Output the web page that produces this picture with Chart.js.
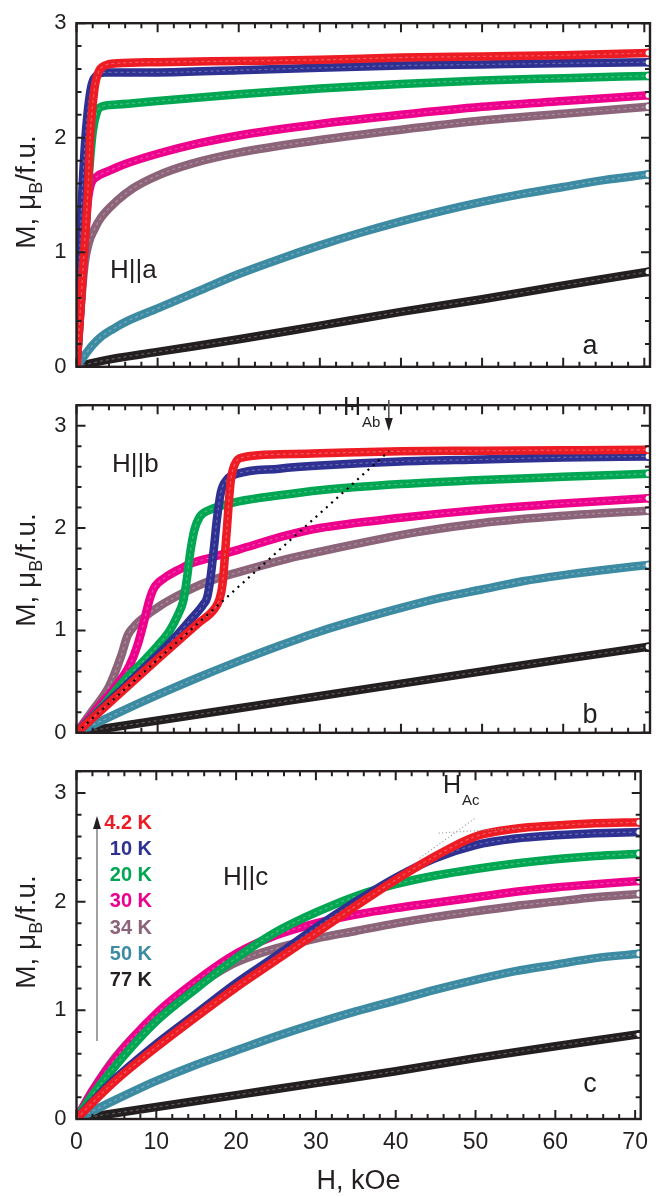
<!DOCTYPE html>
<html>
<head>
<meta charset="utf-8">
<script src="https://cdn.jsdelivr.net/npm/chart.js@4.4.1/dist/chart.umd.min.js"></script>
<style>
  html, body { margin: 0; padding: 0; background: #fff; }
  #wrap { position: relative; width: 658px; height: 1197px; overflow: hidden; }
  canvas { position: absolute; left: 0; }
</style>
</head>
<body>
<div id="wrap">
  <canvas id="panelA" width="658" height="390" style="top:0px;width:658px;height:390px"></canvas>
  <canvas id="panelB" width="658" height="374" style="top:382px;width:658px;height:374px"></canvas>
  <canvas id="panelC" width="658" height="449" style="top:748px;width:658px;height:449px"></canvas>
</div>
<script>
const temps  = ['4.2 K', '10 K', '20 K', '30 K', '34 K', '50 K', '77 K'];
const colors = ['#ed1c24', '#2e3192', '#00a651', '#ec008c', '#8c6479', '#3d8ba3', '#231f20'];
const xTicks = [0, 10, 20, 30, 40, 50, 60, 70];

// panel a : H || a   ([H kOe, M muB/f.u.])
const a42 = [[0,0],[0.5,0.52],[1,1.07],[1.4,1.52],[1.7,2.02],[2.2,2.42],[2.7,2.57],[3.5,2.63],[5,2.65],[10,2.66],[20,2.67],[30,2.68],[40,2.7],[50,2.71],[60,2.72],[70.5,2.74]];
const a10 = [[0,0],[0.2,0.6],[0.5,1.2],[0.8,1.65],[1.1,2.0],[1.5,2.3],[1.9,2.47],[2.6,2.55],[3.5,2.57],[5,2.57],[10,2.57],[20,2.59],[30,2.61],[40,2.63],[50,2.64],[60,2.65],[70.5,2.66]];
const a20 = [[0,0],[0.5,0.55],[1,1.1],[1.5,1.65],[2,2.05],[2.5,2.22],[3,2.27],[5,2.29],[10,2.32],[20,2.38],[30,2.43],[40,2.47],[50,2.5],[60,2.52],[70.5,2.54]];
const a30 = [[0,0],[0.5,0.52],[1,1.05],[1.4,1.45],[1.8,1.6],[2.5,1.66],[4,1.71],[6,1.77],[10,1.86],[15,1.95],[20,2.02],[30,2.12],[40,2.2],[50,2.27],[60,2.32],[70.5,2.37]];
const a34 = [[0,0],[0.5,0.5],[1,0.9],[1.5,1.08],[2.2,1.2],[3,1.3],[5,1.45],[7,1.56],[10,1.67],[14,1.77],[20,1.87],[30,1.98],[40,2.07],[50,2.15],[60,2.21],[70.5,2.27]];
const a50 = [[0,0],[1,0.1],[2,0.19],[3,0.26],[4.5,0.33],[6,0.39],[10,0.51],[15,0.66],[20,0.81],[25,0.94],[30,1.06],[35,1.17],[40,1.27],[45,1.36],[50,1.44],[55,1.51],[60,1.57],[65,1.63],[70.5,1.68]];
const a77 = [[0,0],[3,0.05],[10,0.13],[20,0.24],[30,0.36],[40,0.48],[50,0.59],[60,0.71],[70.5,0.83]];

// panel b : H || b
const b42 = [[0,0],[5,0.36],[10,0.72],[15,1.07],[17,1.21],[17.6,1.3],[18,1.45],[18.5,1.95],[19,2.45],[19.5,2.62],[20.5,2.69],[25,2.72],[30,2.73],[40,2.75],[50,2.755],[60,2.76],[70.5,2.765]];
const b10 = [[0,0],[5,0.38],[10,0.76],[12,0.92],[14,1.1],[15.6,1.25],[16.1,1.32],[16.5,1.5],[17,1.85],[17.3,2.08],[17.8,2.35],[18.5,2.47],[19.8,2.53],[25,2.58],[30,2.61],[40,2.65],[50,2.67],[60,2.69],[70.5,2.7]];
const b20 = [[0,0],[3,0.24],[6,0.52],[8,0.68],[10,0.85],[11.5,1.0],[12.5,1.15],[13.2,1.3],[13.6,1.5],[14,1.75],[14.5,1.97],[15.2,2.11],[16.5,2.18],[18,2.22],[20,2.26],[25,2.32],[30,2.37],[40,2.43],[50,2.47],[60,2.5],[70.5,2.53]];
const b30 = [[0,0],[3,0.28],[5,0.47],[6.5,0.65],[7.5,0.85],[8.3,1.08],[9,1.3],[9.6,1.42],[11,1.52],[13,1.61],[14,1.65],[16.5,1.71],[20,1.79],[26,1.93],[30,2.0],[40,2.1],[50,2.18],[60,2.24],[70.5,2.29]];
const b34 = [[0,0],[2,0.22],[4,0.45],[5.5,0.75],[6.3,0.95],[7,1.03],[8.2,1.12],[10.3,1.24],[13,1.36],[16,1.47],[20,1.57],[26,1.7],[30,1.77],[42,1.96],[50,2.05],[60,2.12],[70.5,2.17]];
const b50 = [[0,0],[5,0.19],[10,0.37],[15,0.54],[20,0.7],[25,0.85],[30,0.99],[35,1.11],[40,1.22],[45,1.32],[50,1.4],[55,1.48],[60,1.54],[65,1.59],[70.5,1.64]];
const b77 = [[0,0],[10,0.12],[20,0.24],[30,0.36],[40,0.48],[50,0.6],[60,0.72],[70.5,0.84]];
const bGuide = [[0,0],[38.5,2.75]];

// panel c : H || c
const c42 = [[0,0],[2,0.15],[5,0.36],[10,0.66],[15,0.94],[20,1.21],[25,1.46],[30,1.71],[35,1.96],[40,2.2],[45,2.42],[50,2.6],[55,2.67],[60,2.7],[65,2.72],[70.5,2.73]];
const c10 = [[0,0],[2,0.16],[5,0.38],[10,0.69],[15,0.97],[20,1.25],[25,1.5],[30,1.76],[35,2.0],[40,2.22],[45,2.4],[50,2.52],[55,2.58],[60,2.61],[65,2.63],[70.5,2.64]];
const c20 = [[0,0],[2,0.22],[5,0.5],[10,0.9],[15,1.2],[20,1.48],[25,1.72],[30,1.9],[35,2.05],[40,2.16],[45,2.24],[50,2.3],[55,2.35],[60,2.39],[65,2.42],[70.5,2.44]];
const c30 = [[0,0],[2,0.26],[5,0.57],[10,0.97],[15,1.27],[20,1.52],[25,1.69],[30,1.8],[35,1.88],[40,1.94],[45,1.99],[50,2.04],[55,2.09],[60,2.13],[65,2.16],[70.5,2.19]];
const c34 = [[0,0],[2,0.26],[5,0.58],[10,0.95],[15,1.22],[20,1.44],[25,1.57],[30,1.66],[35,1.73],[40,1.8],[45,1.86],[50,1.91],[55,1.96],[60,2.0],[65,2.04],[70.5,2.07]];
const c50 = [[0,0],[5,0.18],[10,0.35],[15,0.5],[20,0.63],[25,0.76],[30,0.88],[35,0.99],[40,1.09],[45,1.19],[50,1.28],[55,1.36],[60,1.42],[65,1.48],[70.5,1.52]];
const c77 = [[0,0],[10,0.11],[20,0.22],[30,0.33],[40,0.44],[50,0.56],[60,0.67],[70.5,0.78]];
const cGuide1 = [[43,2.4],[50,2.77]];
const cGuide2 = [[45.4,2.63],[55.7,2.68]];

const FONT = '"Liberation Sans", Arial, Helvetica, sans-serif';
const INK = '#231f20';
const X_MAX = 70.7;

function toXY(arr) {
  return arr.map(p => ({x: p[0], y: p[1]}));
}

function curveSets(series) {
  return series.map((s, i) => ({
    label: temps[i],
    data: toXY(s),
    borderColor: colors[i],
    borderWidth: 8.5,
    borderCapStyle: 'round',
    borderJoinStyle: 'round',
    cubicInterpolationMode: 'monotone',
    pointRadius: s.map((p, k) => k === s.length - 1 ? 3.5 : 0),
    pointBackgroundColor: '#fff',
    pointBorderColor: colors[i],
    pointBorderWidth: 1.5
  }));
}

function guide(arr, color, width, dash) {
  return {
    label: 'guide',
    data: toXY(arr),
    borderColor: color,
    borderWidth: width,
    borderDash: dash,
    pointRadius: 0,
    tension: 0
  };
}

// page y -> canvas y
function py(chart, pageY) { return pageY - chart.canvas.offsetTop; }

function yTitle(ctx, cy) {
  ctx.save();
  ctx.translate(35, cy);
  ctx.rotate(-Math.PI / 2);
  const big = '28px ' + FONT, small = '18px ' + FONT;
  ctx.font = big;
  const w1 = ctx.measureText('M, \u03bc').width;
  const w3 = ctx.measureText('/f.u.').width;
  ctx.font = small;
  const w2 = ctx.measureText('B').width;
  const sx = -(w1 + w2 + w3) / 2;
  ctx.fillStyle = INK;
  ctx.textAlign = 'left';
  ctx.textBaseline = 'alphabetic';
  ctx.font = big; ctx.fillText('M, \u03bc', sx, 0);
  ctx.font = small; ctx.fillText('B', sx + w1, 7);
  ctx.font = big; ctx.fillText('/f.u.', sx + w1 + w2, 0);
  ctx.restore();
}

function text(ctx, s, x, y, size, align, color, weight) {
  ctx.font = (weight || '') + ' ' + size + 'px ' + FONT;
  ctx.fillStyle = color || INK;
  ctx.textAlign = align || 'left';
  ctx.fillText(s, x, y);
}

function subLabel(ctx, main, sub, x, y) {
  ctx.textBaseline = 'alphabetic';
  text(ctx, main, x, y, 25);
  const w = ctx.measureText(main).width;
  text(ctx, sub, x + w + 1, y + 12, 15);
}

function arrowDown(ctx, x, y0, y1, lineColor) {
  ctx.strokeStyle = lineColor; ctx.lineWidth = 1.6;
  ctx.beginPath(); ctx.moveTo(x, y0); ctx.lineTo(x, y1 - 10); ctx.stroke();
  ctx.fillStyle = INK;
  ctx.beginPath(); ctx.moveTo(x - 4, y1 - 13); ctx.lineTo(x + 4, y1 - 13); ctx.lineTo(x, y1); ctx.closePath(); ctx.fill();
}

function arrowUp(ctx, x, y0, y1, lineColor) {
  ctx.strokeStyle = lineColor; ctx.lineWidth = 1.6;
  ctx.beginPath(); ctx.moveTo(x, y0); ctx.lineTo(x, y1 + 10); ctx.stroke();
  ctx.fillStyle = INK;
  ctx.beginPath(); ctx.moveTo(x - 4, y1 + 13); ctx.lineTo(x + 4, y1 + 13); ctx.lineTo(x, y1); ctx.closePath(); ctx.fill();
}

const decorations = {
  panelA(chart, ctx) {
    yTitle(ctx, py(chart, 192));
    ctx.textBaseline = 'alphabetic';
    text(ctx, 'H||a', 110, py(chart, 278), 26);
    text(ctx, 'a', 590, py(chart, 354), 27, 'center');
  },
  panelB(chart, ctx) {
    const x = chart.scales.x;
    yTitle(ctx, py(chart, 570));
    ctx.textBaseline = 'alphabetic';
    text(ctx, 'H||b', 112, py(chart, 472), 26);
    text(ctx, 'b', 590, py(chart, 723), 27, 'center');
    subLabel(ctx, 'H', 'Ab', 343, py(chart, 415));
    arrowDown(ctx, x.getPixelForValue(38.5), py(chart, 400), py(chart, 431), '#555');
  },
  panelC(chart, ctx) {
    yTitle(ctx, py(chart, 932));
    ctx.textBaseline = 'alphabetic';
    text(ctx, 'H||c', 223, py(chart, 885), 26);
    text(ctx, 'c', 590, py(chart, 1092), 27, 'center');
    subLabel(ctx, 'H', 'Ac', 443, py(chart, 793));
    arrowUp(ctx, 97, py(chart, 1041), py(chart, 816), '#8a8a8a');
    ctx.textBaseline = 'middle';
    temps.forEach((t, i) => {
      text(ctx, t, 152, py(chart, 823 + i * 26.3), 20, 'right', colors[i], 'bold');
    });
    ctx.textBaseline = 'alphabetic';
    text(ctx, 'H, kOe', (chart.chartArea.left + chart.chartArea.right) / 2, py(chart, 1189), 27, 'center');
  }
};

// light dashes inside each band, like the open-circle markers of the data
const texturePlugin = {
  id: 'texture',
  afterDatasetDraw(chart, args) {
    const meta = args.meta, ds = chart.data.datasets[args.index];
    if (ds.label === 'guide' || !meta.dataset) return;
    const ctx = chart.ctx, a = chart.chartArea;
    ctx.save();
    ctx.beginPath();
    ctx.rect(a.left, a.top, a.right - a.left, a.bottom - a.top);
    ctx.clip();
    ctx.strokeStyle = 'rgba(255,255,255,0.28)';
    ctx.lineWidth = 1.2;
    ctx.setLineDash([3, 3]);
    ctx.beginPath();
    meta.dataset.path(ctx);
    ctx.stroke();
    ctx.restore();
  }
};

const framePlugin = {
  id: 'frame',
  afterDatasetsDraw(chart) {
    const ctx = chart.ctx, a = chart.chartArea;
    const x = chart.scales.x, y = chart.scales.y;
    ctx.save();
    ctx.strokeStyle = INK;
    ctx.lineWidth = 2;
    ctx.beginPath();
    for (let i = 0; i <= 35; i++) {
      const px = x.getPixelForValue(i * 2);
      const L = i % 5 === 0 ? 9 : 5;
      ctx.moveTo(px, a.bottom); ctx.lineTo(px, a.bottom - L);
      ctx.moveTo(px, a.top); ctx.lineTo(px, a.top + L);
    }
    const n = Math.round(y.max / 0.2);
    for (let i = 0; i <= n; i++) {
      const pyv = y.getPixelForValue(i * 0.2);
      const L = i % 5 === 0 ? 9 : 5;
      ctx.moveTo(a.left, pyv); ctx.lineTo(a.left + L, pyv);
      ctx.moveTo(a.right, pyv); ctx.lineTo(a.right - L, pyv);
    }
    ctx.stroke();
    ctx.lineWidth = 2.4;
    ctx.strokeRect(a.left, a.top, a.right - a.left, a.bottom - a.top);
    decorations[chart.canvas.id](chart, ctx);
    ctx.restore();
  }
};

function makePanel(id, datasets, yMax, pad, showX) {
  return new Chart(document.getElementById(id), {
    type: 'line',
    data: { datasets: datasets },
    plugins: [texturePlugin, framePlugin],
    options: {
      responsive: false,
      animation: false,
      devicePixelRatio: 1,
      layout: { autoPadding: false, padding: { left: 0, right: 8, top: pad[0], bottom: pad[1] } },
      plugins: { legend: { display: false }, tooltip: { enabled: false } },
      scales: {
        x: {
          type: 'linear',
          min: 0, max: X_MAX,
          display: showX,
          afterFit: s => { if (showX) s.height = 78; },
          afterBuildTicks: s => { s.ticks = xTicks.map(v => ({value: v})); },
          grid: { display: false, drawTicks: false },
          border: { display: false },
          ticks: { padding: 10, color: INK, font: { family: FONT, size: 23 } }
        },
        y: {
          min: 0, max: yMax,
          afterFit: s => { s.width = 76.5; },
          grid: { display: false, drawTicks: false },
          border: { display: false },
          ticks: {
            stepSize: 1, includeBounds: false, padding: 10, color: INK,
            font: { family: FONT, size: 22 },
            callback: v => Number.isInteger(v) ? String(v) : ''
          }
        }
      }
    }
  });
}

makePanel('panelA', curveSets([a42, a10, a20, a30, a34, a50, a77]), 3, [20, 4], false);
makePanel('panelB', [guide(bGuide, '#000', 2.2, [2, 5])].concat(curveSets([b42, b10, b20, b30, b34, b50, b77])), 3.2, [4, 4], false);
makePanel('panelC', [guide(cGuide1, '#9a9a9a', 1.2, [1, 2.5]), guide(cGuide2, '#9a9a9a', 1.2, [1, 2.5])].concat(curveSets([c42, c10, c20, c30, c34, c50, c77])), 3.2, [4, 0], true);
</script>
</body>
</html>
